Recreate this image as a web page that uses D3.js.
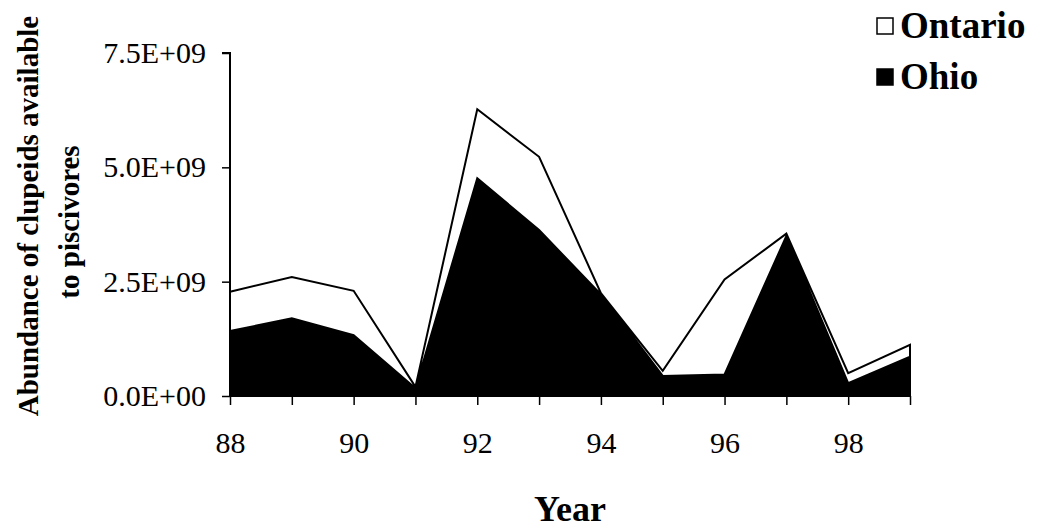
<!DOCTYPE html>
<html>
<head>
<meta charset="utf-8">
<script src="https://cdn.jsdelivr.net/npm/d3@7"></script>
<style>
 body{margin:0;background:#fff;}
 svg text{font-family:"Liberation Serif","Times New Roman",serif;fill:#000;}
</style>
</head>
<body>
<div id="chart"></div>
<script>
// years and abundance of clupeids (units of 1E+09)
const years = [88, 89, 90, 91, 92, 93, 94, 95, 96, 97, 98, 99];
const ohio = [1.42, 1.70, 1.33, 0.17, 4.76, 3.63, 2.22, 0.44, 0.47, 3.50, 0.28, 0.86];
const ontario = [0.86, 0.90, 0.97, 0.03, 1.51, 1.60, 0.03, 0.11, 2.08, 0.05, 0.22, 0.26];
const yTicks = [0, 2.5e9, 5.0e9, 7.5e9];
const yTickLabels = ['0.0E+00', '2.5E+09', '5.0E+09', '7.5E+09'];
const xTickLabels = [88, 90, 92, 94, 96, 98];

const serif = '"Liberation Serif", "Times New Roman", serif';

const width = 1041, height = 531;
const margin = {top: 53, right: 131, bottom: 135, left: 230};
const visWidth = width - margin.left - margin.right;
const visHeight = height - margin.top - margin.bottom;

const svg = d3.select('#chart').append('svg')
    .attr('width', width)
    .attr('height', height)
    .attr('font-family', serif);

const container = svg.append('g')
    .attr('transform', `translate(${margin.left}, ${margin.top})`);

// build rows for the stack
const rows = years.map((y, i) => ({year: y, Ohio: ohio[i] * 1e9, Ontario: ontario[i] * 1e9}));
const series = d3.stack().keys(['Ohio', 'Ontario'])(rows);

const xScale = d3.scaleLinear()
    .domain([88, 99])
    .range([0, visWidth]);

const yScale = d3.scaleLinear()
    .domain([0, 7.5e9])
    .range([visHeight, 0]);

const area = d3.area()
    .x(d => xScale(d.data.year))
    .y0(d => yScale(d[0]))
    .y1(d => yScale(d[1]));

const fillColor = {'Ohio': '#000', 'Ontario': '#fff'};

container.selectAll('path.area')
    .data(series)
    .join('path')
    .attr('class', 'area')
    .attr('d', area)
    .attr('fill', d => fillColor[d.key])
    .attr('stroke', '#000')
    .attr('stroke-width', 2)
    .attr('stroke-linejoin', 'miter');

// y axis
const yAxis = d3.axisLeft(yScale)
    .tickValues(yTicks)
    .tickFormat((d, i) => yTickLabels[i])
    .tickSize(8)
    .tickPadding(16);

const gy = container.append('g').call(yAxis)
    .attr('font-family', serif)
    .attr('font-size', 30);
gy.select('.domain').attr('stroke-width', 2).attr('d', `M-8,0H0V${visHeight}`);
gy.selectAll('.tick line').attr('stroke-width', 1.5);

// x axis, a tick every year, labels every other year
const xAxis = d3.axisBottom(xScale)
    .tickValues(years)
    .tickFormat(d => xTickLabels.includes(d) ? d : '')
    .tickSize(9)
    .tickPadding(27);

const gx = container.append('g')
    .attr('transform', `translate(0,${visHeight})`)
    .call(xAxis)
    .attr('font-family', serif)
    .attr('font-size', 30);
gx.select('.domain').attr('stroke-width', 1.5).attr('d', `M0,0H${visWidth}`);
gx.selectAll('.tick line').attr('stroke-width', 1.5);

// axis titles
svg.append('text')
    .attr('transform', 'translate(38,216) rotate(-90)')
    .attr('text-anchor', 'middle')
    .style('font-size', '29px')
    .style('font-weight', 'bold')
    .text('Abundance of clupeids available');

svg.append('text')
    .attr('transform', 'translate(79,222) rotate(-90)')
    .attr('text-anchor', 'middle')
    .style('font-size', '29px')
    .style('font-weight', 'bold')
    .text('to piscivores');

svg.append('text')
    .attr('x', margin.left + visWidth / 2)
    .attr('y', 521)
    .attr('text-anchor', 'middle')
    .style('font-size', '36px')
    .style('font-weight', 'bold')
    .text('Year');

// legend
const legend = svg.append('g')
    .attr('transform', 'translate(876,0)');

const legendKeys = ['Ontario', 'Ohio'];
legendKeys.forEach((k, i) => {
 legend.append('rect')
     .attr('x', 1)
     .attr('y', 18 + i * 51)
     .attr('width', 16)
     .attr('height', 16)
     .attr('fill', fillColor[k])
     .attr('stroke', '#000')
     .attr('stroke-width', 1.5);
 legend.append('text')
     .attr('x', 24)
     .attr('y', 38 + i * 51)
     .style('font-size', '37px')
     .style('font-weight', 'bold')
     .text(k);
});
</script>
</body>
</html>
